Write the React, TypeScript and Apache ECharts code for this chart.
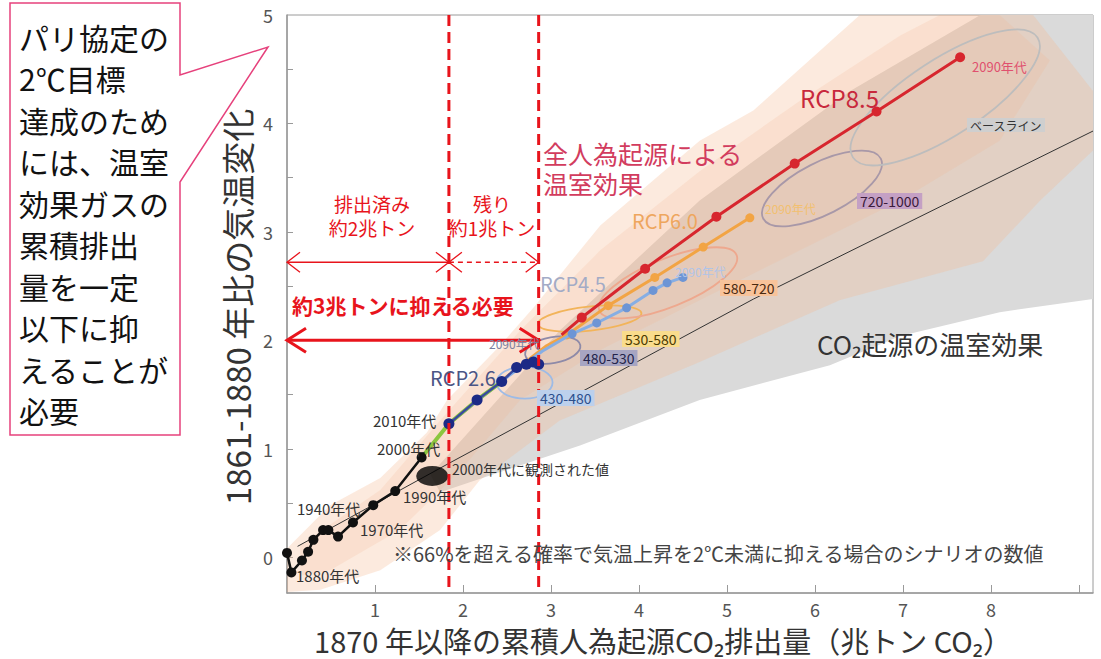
import React, { useEffect, useRef } from 'react';
import * as echarts from 'echarts';

const FONT = '"Noto Sans CJK JP","Noto Sans",sans-serif';

// ---- axis ----
const X_MIN = 0;
const X_MAX = 9.16;
const Y_MIN = -0.33;
const Y_MAX = 5.0;
const xTickValues = [1, 2, 3, 4, 5, 6, 7, 8, 9];
const xLabelValues = [1, 2, 3, 4, 5, 6, 7, 8];
const yTickValues = [0, 0.5, 1, 1.5, 2, 2.5, 3, 3.5, 4, 4.5];
const yLabelValues = [0, 1, 2, 3, 4, 5];

// ---- series values (cumulative CO2 [兆トン], temperature change [℃]) ----
const historical = [
  [0.0, 0.04], [0.05, -0.14], [0.17, -0.03], [0.24, 0.05], [0.3, 0.16], [0.41, 0.25],
  [0.47, 0.25], [0.58, 0.19], [0.75, 0.32], [0.98, 0.48], [1.23, 0.61], [1.53, 0.92],
];
const nearTerm = [[1.53, 0.92], [1.84, 1.23], [2.16, 1.45], [2.44, 1.62]];
const rcp26 = [[1.84, 1.23], [2.16, 1.45], [2.44, 1.62], [2.61, 1.75], [2.72, 1.78], [2.8, 1.8], [2.86, 1.78]];
const rcp45 = [[1.84, 1.23], [2.5, 1.66], [2.9, 1.9], [3.24, 2.06], [3.52, 2.16], [3.86, 2.3], [4.16, 2.46], [4.32, 2.53], [4.5, 2.58]];
const rcp60 = [[1.84, 1.23], [2.55, 1.7], [2.95, 1.95], [3.18, 2.05], [3.65, 2.32], [4.18, 2.58], [4.73, 2.86], [5.26, 3.13]];
const rcp85 = [[3.12, 2.05], [3.35, 2.21], [4.07, 2.66], [4.88, 3.14], [5.77, 3.63], [6.7, 4.11], [7.65, 4.61]];
const co2Only = [[0.12, 0.1], [1.85, 0.87], [5.3, 2.38], [9.16, 3.93]];
const observed2000s = [[1.65, 0.75]];
const budgetLines = [1.84, 2.86];

// plume outlines (data coords)
const allForcingPlume = [
  [0, 0.08], [0.49, 0.48], [1.06, 0.73], [1.59, 1.15], [1.82, 1.45], [2.42, 1.95], [2.8, 2.3],
  [3.56, 3.06], [4.69, 3.84], [5.3, 4.12], [6.51, 5.0], [8.48, 5.0], [9.16, 4.3], [9.16, 3.75],
  [8.56, 3.29], [7.91, 2.73], [6.28, 2.37], [4.69, 1.8], [3.1, 1.26], [2.19, 0.71], [1.74, 0.25],
  [1.06, -0.12], [0.38, -0.3], [0, -0.32],
];
const allForcingCore = [
  [0.15, 0.11], [1.06, 0.62], [1.74, 1.26], [2.65, 2.09], [3.56, 2.83], [4.69, 3.56], [5.83, 4.21],
  [6.97, 4.81], [7.42, 5.0], [8.1, 5.0], [8.67, 4.58], [8.1, 3.84], [6.97, 3.29], [5.83, 2.83],
  [4.69, 2.37], [3.56, 1.91], [2.65, 1.45], [1.97, 0.8], [1.28, 0.25], [0.49, -0.12], [0.15, -0.17],
];
const co2Plume = [
  [1.63, 0.76], [3.1, 2.09], [4.69, 3.29], [6.4, 4.3], [7.88, 5.0], [9.16, 5.0], [9.16, 2.38],
  [8.1, 2.26], [6.97, 2.04], [6.17, 1.77], [4.69, 1.45], [3.33, 1.03], [1.74, 0.6],
];

// scenario-category ellipse centres
const ellipseCenters = [[2.7, 1.61], [3.02, 1.91], [3.44, 2.2], [4.33, 2.53], [6.08, 3.4], [7.48, 4.24]];
const ellipseLabels = ['430-480', '480-530', '530-580', '580-720', '720-1000', 'ベースライン'];

// arrows: [x1, x2, y]
const arrowSpans = [[0, 1.84, 2.72], [1.84, 2.86, 2.72], [0, 2.86, 2.0]];

const calloutLines = ['パリ協定の', '2℃目標', '達成のため', 'には、温室', '効果ガスの', '累積排出', '量を一定', '以下に抑', 'えることが', '必要'];

// ---- styles ----
const RED = '#e8141c';
const ellipseStyles = [
  { rx: 28, ry: 16, rot: 0, color: '#9dbbe6' },
  { rx: 28, ry: 13, rot: 10, color: '#8e8aa8' },
  { rx: 52, ry: 12, rot: 6, color: '#f2b45a' },
  { rx: 74, ry: 24, rot: 22, color: '#eea88e' },
  { rx: 66, ry: 26, rot: 27, color: '#a898a8' },
  { rx: 110, ry: 38, rot: 33, color: '#bdbdbd' },
];
const ellipseLabelStyles = [
  { x: 537, y: 398, bg: '#bcd0ec', fill: '#2c4f8c', size: 14 },
  { x: 580, y: 358, bg: '#a7a5c2', fill: '#23234a', size: 14 },
  { x: 622, y: 339, bg: '#f9dc8c', fill: '#4a3a00', size: 14 },
  { x: 720, y: 288, bg: '#f8c39a', fill: '#4a2a10', size: 14 },
  { x: 857, y: 201, bg: '#c4a0c4', fill: '#3a1a3a', size: 14 },
  { x: 967, y: 125, bg: '#cfcfcf', fill: '#333333', size: 12 },
];
const arrowStyles = [
  { width: 1.3, dash: null, head: 13, half: 10 },
  { width: 1.3, dash: [5, 4], head: 13, half: 10 },
  { width: 3, dash: null, head: 19, half: 12 },
];

function polygonSeries(points: number[][], fill: string, z: number) {
  return {
    type: 'custom',
    coordinateSystem: 'cartesian2d',
    silent: true,
    z,
    clip: true,
    data: [points[0]],
    renderItem: (_p: any, api: any) => ({
      type: 'polygon',
      shape: { points: points.map((pt) => api.coord(pt)) },
      style: { fill },
    }),
  };
}

function lineSeries(data: number[][], color: string, width: number, size: number, z: number, firstMarker = 0, markerColor?: string) {
  return {
    type: 'line',
    data,
    z,
    silent: true,
    symbol: 'circle',
    symbolSize: (_v: any, params: any) => (params.dataIndex >= firstMarker ? size : 0),
    lineStyle: { color, width },
    itemStyle: { color: markerColor || color },
  };
}

// [text, x, y, fontSize, colour, align, weight, lineHeight]
type T = [string, number, number, number, string, string?, string?, number?];
const texts: T[] = [
  ['1880年代', 296, 575, 15, '#333'],
  ['1940年代', 297, 508, 15, '#333'],
  ['1970年代', 360, 529, 15, '#333'],
  ['1990年代', 403, 496, 15, '#333'],
  ['2000年代', 377, 448, 15, '#333'],
  ['2010年代', 373, 420, 15, '#333'],
  ['2000年代に観測された値', 452, 469, 14, '#333'],
  ['RCP2.6', 430, 377, 20, '#4b5585'],
  ['RCP4.5', 540, 283, 20, '#a3abc6'],
  ['RCP6.0', 632, 220, 20, '#eea65e'],
  ['RCP8.5', 800, 97, 24, '#c8283c'],
  ['2090年代', 489, 343, 12, '#7a80a0'],
  ['2090年代', 675, 271, 12, '#b0c4e8'],
  ['2090年代', 765, 208, 12, '#f2c070'],
  ['2090年代', 972, 66, 13, '#e0506e'],
  ['全人為起源による\n温室効果', 543, 168, 25, '#d23c5e', 'left', 'normal', 30],
  ['CO₂起源の温室効果', 817, 343, 26, '#333'],
  ['※66%を超える確率で気温上昇を2℃未満に抑える場合のシナリオの数値', 393, 553, 20, '#444'],
  ['約3兆トンに抑える必要', 292, 305, 21, RED, 'left', 'bold'],
  ['排出済み\n約2兆トン', 372, 215, 19, RED, 'center', 'normal', 24],
  ['残り\n約1兆トン', 492, 215, 19, RED, 'center', 'normal', 24],
  ['1870 年以降の累積人為起源CO₂排出量（兆トン CO₂）', 663, 640, 29, '#333', 'center'],
];

function buildOption() {
  const graphic: any[] = [];
  texts.forEach(([text, x, y, size, fill, align, weight, lh]) => {
    graphic.push({
      type: 'text', x, y, z: 100, silent: true,
      style: {
        text, fontSize: size, fontFamily: FONT, fill, align: align || 'left', verticalAlign: 'middle',
        fontWeight: weight || 'normal', lineHeight: lh || undefined,
      },
    });
  });
  ellipseLabels.forEach((text, i) => {
    const s = ellipseLabelStyles[i];
    graphic.push({
      type: 'text', x: s.x, y: s.y, z: 100, silent: true,
      style: { text, fontSize: s.size, fontFamily: FONT, fill: s.fill, backgroundColor: s.bg, padding: [1, 3], align: 'left', verticalAlign: 'middle' },
    });
  });
  graphic.push({
    type: 'text', x: 237, y: 307, z: 100, rotation: Math.PI / 2, silent: true,
    style: { text: '1861-1880 年比の気温変化', fontSize: 33, fontFamily: FONT, fill: '#333', align: 'center', verticalAlign: 'middle' },
  });
  // callout
  graphic.push({
    type: 'polygon', z: 100, silent: true,
    shape: { points: [[10, 3], [180, 3], [180, 75], [268, 47], [180, 182], [180, 435], [10, 435]] },
    style: { fill: '#fff', stroke: '#e6417c', lineWidth: 1.5 },
  });
  graphic.push({
    type: 'text', x: 19, y: 16, z: 101, silent: true,
    style: { text: calloutLines.join('\n'), fontSize: 30, lineHeight: 41.5, fontFamily: FONT, fill: '#111', align: 'left', verticalAlign: 'top' },
  });

  return {
    animation: false,
    backgroundColor: '#fff',
    grid: { left: 287, right: 8, top: 15, bottom: 66, show: true, borderColor: '#9a9a9a', borderWidth: 1, backgroundColor: 'transparent' },
    xAxis: {
      type: 'value', min: X_MIN, max: X_MAX,
      axisLine: { show: true, onZero: false, lineStyle: { color: '#9a9a9a', width: 1.5 } },
      axisTick: { show: true, inside: true, length: 8, customValues: xTickValues, lineStyle: { color: '#9a9a9a' } },
      axisLabel: { customValues: xLabelValues, fontSize: 18, color: '#555', margin: 7, fontFamily: FONT },
      splitLine: { show: false },
    },
    yAxis: {
      type: 'value', min: Y_MIN, max: Y_MAX,
      axisLine: { show: true, onZero: false, lineStyle: { color: '#9a9a9a', width: 1.5 } },
      axisTick: { show: true, inside: true, length: 6, customValues: yTickValues, lineStyle: { color: '#9a9a9a' } },
      axisLabel: { customValues: yLabelValues, fontSize: 18, color: '#555', margin: 14, fontFamily: FONT },
      splitLine: { show: false },
    },
    graphic,
    series: [
      polygonSeries(co2Plume, '#dadada', 1),
      polygonSeries(allForcingPlume, 'rgba(246,184,146,0.30)', 1),
      polygonSeries(allForcingCore, 'rgba(246,176,136,0.18)', 1),
      {
        type: 'line', data: co2Only, symbol: 'none', silent: true, z: 3,
        lineStyle: { color: '#333', width: 1 },
      },
      {
        type: 'custom', coordinateSystem: 'cartesian2d', silent: true, z: 3,
        data: ellipseCenters,
        renderItem: (params: any, api: any) => {
          const s = ellipseStyles[params.dataIndex];
          const c = api.coord([api.value(0), api.value(1)]);
          return {
            type: 'ellipse', x: c[0], y: c[1], rotation: (s.rot * Math.PI) / 180,
            shape: { cx: 0, cy: 0, rx: s.rx, ry: s.ry },
            style: { fill: 'none', stroke: s.color, lineWidth: 1.8 },
          };
        },
      },
      lineSeries(rcp60, '#f2a444', 3, 9, 5, 3),
      lineSeries(rcp45, '#86aee4', 3, 9, 6, 3, '#6d95d5'),
      lineSeries(rcp85, '#d7262e', 3, 10, 7, 1),
      lineSeries(nearTerm, '#8cc63f', 4, 0, 8, 99),
      lineSeries(rcp26, '#3a4aa0', 2.5, 11, 9, 0, '#1c2a86'),
      lineSeries(historical, '#111', 2.5, 10, 10, 0),
      {
        type: 'scatter', data: observed2000s, symbol: 'circle', symbolSize: [32, 20], silent: true, z: 10,
        itemStyle: { color: '#000' },
      },
      {
        type: 'custom', coordinateSystem: 'cartesian2d', silent: true, z: 12,
        data: budgetLines.map((x) => [x, Y_MIN]),
        renderItem: (_p: any, api: any) => {
          const x = api.value(0);
          const a = api.coord([x, Y_MAX]);
          const b = api.coord([x, Y_MIN]);
          return {
            type: 'line', shape: { x1: a[0], y1: a[1], x2: b[0], y2: b[1] },
            style: { stroke: RED, lineWidth: 3, lineDash: [11, 6] },
          };
        },
      },
      {
        type: 'custom', coordinateSystem: 'cartesian2d', silent: true, z: 12,
        dimensions: ['x1', 'x2', 'y'],
        encode: { x: [0, 1], y: 2 },
        data: arrowSpans,
        renderItem: (params: any, api: any) => {
          const s = arrowStyles[params.dataIndex];
          const a = api.coord([api.value(0), api.value(2)]);
          const b = api.coord([api.value(1), api.value(2)]);
          const st = { stroke: RED, lineWidth: s.width, fill: 'none', lineDash: s.dash };
          const hs = { stroke: RED, lineWidth: s.width, fill: 'none' };
          return {
            type: 'group',
            children: [
              { type: 'line', shape: { x1: a[0], y1: a[1], x2: b[0], y2: b[1] }, style: st },
              { type: 'polyline', shape: { points: [[a[0] + s.head, a[1] - s.half], [a[0], a[1]], [a[0] + s.head, a[1] + s.half]] }, style: hs },
              { type: 'polyline', shape: { points: [[b[0] - s.head, b[1] - s.half], [b[0], b[1]], [b[0] - s.head, b[1] + s.half]] }, style: hs },
            ],
          };
        },
      },
    ],
  };
}

export default function App() {
  const ref = useRef<HTMLDivElement>(null);
  useEffect(() => {
    document.body.style.margin = '0';
    const chart = echarts.init(ref.current as HTMLDivElement, null, { renderer: 'svg' });
    chart.setOption(buildOption() as any);
    return () => chart.dispose();
  }, []);
  return <div ref={ref} style={{ position: 'absolute', left: 0, top: 0, width: 1101, height: 659, background: '#fff' }} />;
}
